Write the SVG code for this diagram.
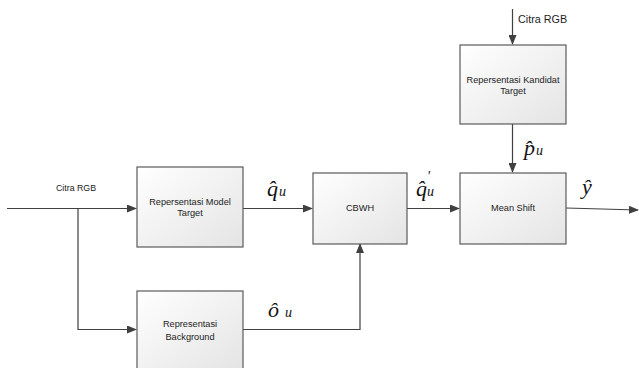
<svg xmlns="http://www.w3.org/2000/svg" width="639" height="368" viewBox="0 0 639 368">
<defs>
<linearGradient id="g" x1="0" y1="0" x2="1" y2="1">
<stop offset="0" stop-color="#ffffff"/>
<stop offset="1" stop-color="#e4e4e4"/>
</linearGradient>
<marker id="ah" markerWidth="10" markerHeight="8" refX="9" refY="4" orient="auto" markerUnits="userSpaceOnUse">
<path d="M0,0 L10,4 L0,8 Z" fill="#404040"/>
</marker>
<style>
.box{fill:url(#g);stroke:#5a5a5a;stroke-width:1.2}
.lbl{font-family:"Liberation Sans",Arial,sans-serif;font-size:9.2px;fill:#222;text-anchor:middle}
.cl{font-family:"Liberation Sans",Arial,sans-serif;fill:#222}
.m{font-family:"Liberation Serif","Times New Roman",serif;font-style:italic;fill:#111;font-size:22px}
.s{font-size:14px}
.c{fill:none;stroke:#404040;stroke-width:1.2}
</style>
</defs>
<rect width="639" height="368" fill="#ffffff"/>
<g id="connectors">
<path class="c" d="M7,208.5 H136" marker-end="url(#ah)"/>
<path class="c" d="M78,208.5 V329.5 H136" marker-end="url(#ah)"/>
<path class="c" d="M243,208.5 H312" marker-end="url(#ah)"/>
<path class="c" d="M243,329.5 H360 V244" marker-end="url(#ah)"/>
<path class="c" d="M407,208.5 H459" marker-end="url(#ah)"/>
<path class="c" d="M512.5,9 V44" marker-end="url(#ah)"/>
<path class="c" d="M512.5,124 V172" marker-end="url(#ah)"/>
<path class="c" d="M566,208 L638,210" marker-end="url(#ah)"/>
</g>
<g id="labels">
<text class="cl" x="76" y="191" font-size="8.8" text-anchor="middle">Citra RGB</text>
<text class="cl" x="518" y="23" font-size="10.8">Citra RGB</text>
<text class="m" x="267" y="196">q&#770;<tspan class="s" dx="1">u</tspan></text>
<text class="m" x="416" y="196">q&#770;<tspan class="s" dy="-15" font-size="16">'</tspan><tspan class="s" dx="-3" dy="15">u</tspan></text>
<text class="m" x="524" y="155">p&#770;<tspan class="s" dx="1">u</tspan></text>
<text class="m" x="582" y="194">y&#770;</text>
<text class="m" x="268" y="317">o&#770;<tspan class="s" dx="6">u</tspan></text>
</g>
<g id="model">
<rect class="box" x="137" y="167" width="106" height="80"/>
<text class="lbl" x="190" y="205">Repersentasi Model</text>
<text class="lbl" x="190" y="216">Target</text>
</g>
<g id="background">
<rect class="box" x="137" y="291" width="106" height="80"/>
<text class="lbl" x="190" y="327">Representasi</text>
<text class="lbl" x="190" y="340">Background</text>
</g>
<g id="cbwh">
<rect class="box" x="313" y="173" width="94" height="71"/>
<text class="lbl" x="360" y="211">CBWH</text>
</g>
<g id="kandidat">
<rect class="box" x="460" y="45" width="106" height="79"/>
<text class="lbl" x="513" y="83">Repersentasi Kandidat</text>
<text class="lbl" x="513" y="94">Target</text>
</g>
<g id="meanshift">
<rect class="box" x="460" y="173" width="106" height="71"/>
<text class="lbl" x="513" y="211">Mean Shift</text>
</g>
</svg>
